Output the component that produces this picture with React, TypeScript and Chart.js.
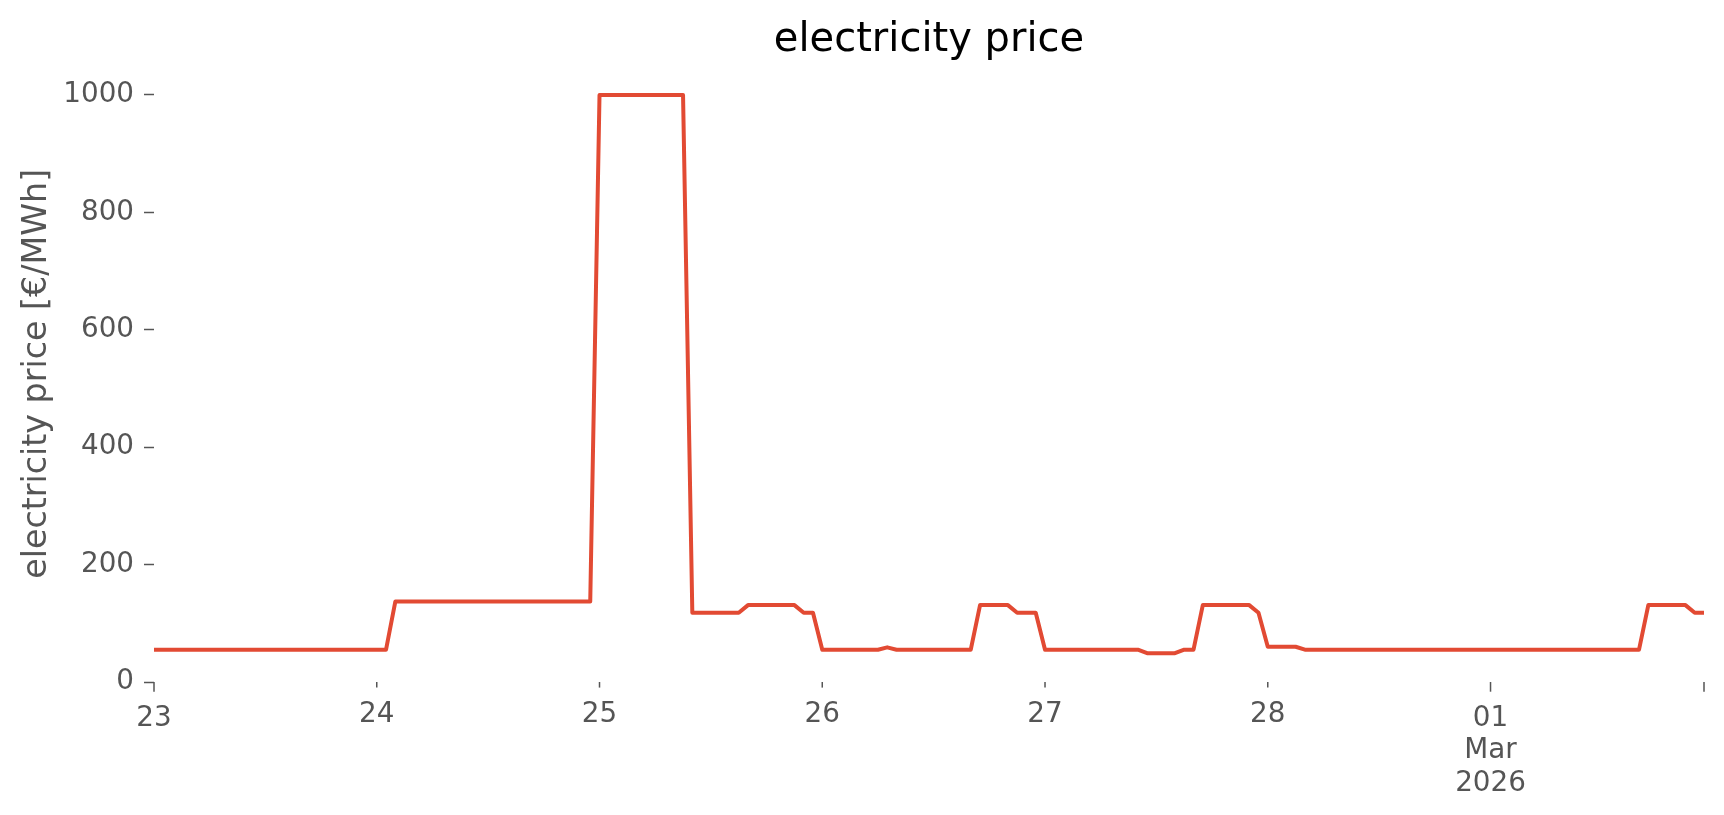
import React, { useEffect, useRef } from 'react';
import { Chart, registerables } from 'chart.js';

Chart.register(...registerables);

// Hourly day-ahead price [€/MWh], 23 Feb 00:00 – 01 Mar 23:00 2026
const feb23 = [55, 55, 55, 55, 55, 55, 55, 55, 55, 55, 55, 55, 55, 55, 55, 55, 55, 55, 55, 55, 55, 55, 55, 55];
const feb24 = [55, 55, 137, 137, 137, 137, 137, 137, 137, 137, 137, 137, 137, 137, 137, 137, 137, 137, 137, 137, 137, 137, 137, 137];
const feb25 = [1000, 1000, 1000, 1000, 1000, 1000, 1000, 1000, 1000, 1000, 118, 118, 118, 118, 118, 118, 131, 131, 131, 131, 131, 131, 118, 118];
const feb26 = [55, 55, 55, 55, 55, 55, 55, 59, 55, 55, 55, 55, 55, 55, 55, 55, 55, 131, 131, 131, 131, 118, 118, 118];
const feb27 = [55, 55, 55, 55, 55, 55, 55, 55, 55, 55, 55, 49, 49, 49, 49, 55, 55, 131, 131, 131, 131, 131, 131, 118];
const feb28 = [60, 60, 60, 60, 55, 55, 55, 55, 55, 55, 55, 55, 55, 55, 55, 55, 55, 55, 55, 55, 55, 55, 55, 55];
const mar01 = [55, 55, 55, 55, 55, 55, 55, 55, 55, 55, 55, 55, 55, 55, 55, 55, 55, 131, 131, 131, 131, 131, 118, 118];

const prices = [...feb23, ...feb24, ...feb25, ...feb26, ...feb27, ...feb28, ...mar01];

const yTicks = [0, 200, 400, 600, 800, 1000];
const xTickHours = [0, 24, 48, 72, 96, 120, 144, 167];
const xTickLabels = [['23'], ['24'], ['25'], ['26'], ['27'], ['28'], ['01', 'Mar', '2026'], ['']];
const xTickMajor = [true, false, false, false, false, false, true, true];

const FONT = '"DejaVu Sans", "Liberation Sans", sans-serif';

const xAxisPlugin = {
  id: 'xAxisTicks',
  afterDraw(chart: any) {
    const { ctx, chartArea, scales } = chart;
    const xs = scales.x;
    ctx.save();
    ctx.strokeStyle = '#555555';
    ctx.lineWidth = 1.5;
    ctx.fillStyle = '#555555';
    ctx.font = `27.8px ${FONT}`;
    ctx.textAlign = 'center';
    ctx.textBaseline = 'alphabetic';
    xTickHours.forEach((h, i) => {
      const x = xs.getPixelForValue(h);
      const len = xTickMajor[i] ? 9.7 : 5.6;
      ctx.beginPath();
      ctx.moveTo(x, chartArea.bottom);
      ctx.lineTo(x, chartArea.bottom + len);
      ctx.stroke();
      const base = chartArea.bottom + len + 34;
      xTickLabels[i].forEach((t, j) => ctx.fillText(t, x, base + j * 32.5));
    });
    ctx.restore();
  },
};

export default function App() {
  const ref = useRef<HTMLCanvasElement | null>(null);

  useEffect(() => {
    if (!ref.current) return;
    const chart = new Chart(ref.current, {
      type: 'line',
      data: {
        datasets: [
          {
            label: 'electricity price',
            data: prices.map((v, i) => ({ x: i, y: v })),
            borderColor: '#E24A33',
            borderWidth: 4,
            pointRadius: 0,
            tension: 0,
            fill: false,
            borderJoinStyle: 'round',
          },
        ],
      },
      options: {
        animation: false,
        responsive: false,
        devicePixelRatio: 1,
        layout: { padding: { left: 0, right: 20, top: 0, bottom: 133 } },
        plugins: {
          legend: { display: false },
          tooltip: { enabled: false },
          title: {
            display: true,
            fullSize: false,
            text: 'electricity price',
            color: '#000000',
            font: { family: FONT, size: 40, weight: 'normal', lineHeight: 1.2 },
            padding: { top: 17, bottom: 0.6 },
          },
        },
        scales: {
          x: {
            type: 'linear',
            min: 0,
            max: 167,
            display: false,
          },
          y: {
            type: 'linear',
            min: 0,
            max: 1050,
            afterBuildTicks: (s: any) => {
              s.ticks = yTicks.map((v) => ({ value: v }));
            },
            afterFit: (s: any) => {
              s.width = 154;
            },
            ticks: {
              color: '#555555',
              font: { family: FONT, size: 27.8 },
              padding: 10,
              callback: (v: any) => String(v),
            },
            grid: {
              display: true,
              drawOnChartArea: false,
              drawTicks: true,
              tickLength: 10,
              tickColor: '#555555',
              tickWidth: 1.5,
            },
            border: { display: false },
            title: {
              display: true,
              text: 'electricity price [€/MWh]',
              color: '#555555',
              font: { family: FONT, size: 33.3 },
              padding: { top: 17, bottom: 0 },
            },
          },
        },
      } as any,
      plugins: [xAxisPlugin],
    });
    return () => chart.destroy();
  }, []);

  return (
    <div style={{ position: 'absolute', left: 0, top: 0, width: 1724, height: 815, background: '#ffffff' }}>
      <canvas ref={ref} width={1724} height={815} style={{ display: 'block', width: 1724, height: 815 }} />
    </div>
  );
}
